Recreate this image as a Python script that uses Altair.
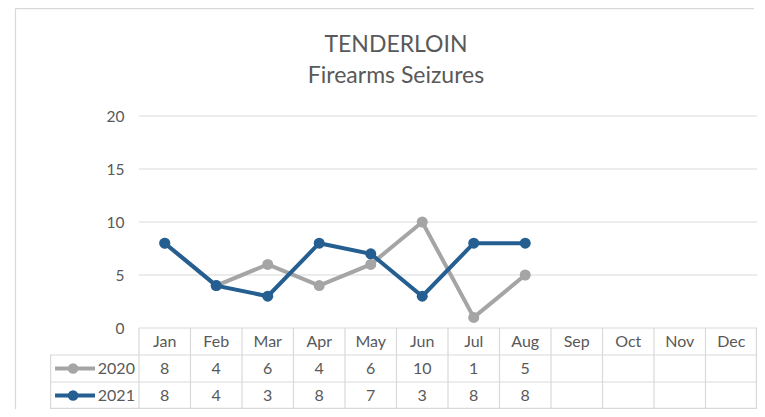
import altair as alt
import pandas as pd

# ---- data ----
months = ["Jan", "Feb", "Mar", "Apr", "May", "Jun", "Jul", "Aug", "Sep", "Oct", "Nov", "Dec"]
series_names = ["2020", "2021"]
values_2020 = [8, 4, 6, 4, 6, 10, 1, 5]
values_2021 = [8, 4, 3, 8, 7, 3, 8, 8]
y_ticks = [0, 5, 10, 15, 20]
grid_values = [5, 10, 15, 20]
title_lines = ["TENDERLOIN", "Firearms Seizures"]

# ---- style / layout constants ----
COLORS = ["#A5A5A5", "#255E91"]
TEXT = "#595959"
LINE = "#D9D9D9"
FONT = "Lato"
PLOT_H = 293
LEG = -1.728                    # left edge of legend column (in month-column units)
BOTTOM = -(PLOT_H - 212) / 10.6 # bottom of table (in value units)
ROW = -BOTTOM / 3               # table row height (in value units)
N = len(months)

# ---- frames ----
pts = []
for s, vals in zip(series_names, [values_2020, values_2021]):
    for i, v in enumerate(vals):
        pts.append({"series": s, "xc": i + 0.5, "value": v, "month": months[i]})
pts = pd.DataFrame(pts)

cells = []
for i, m in enumerate(months):
    cells.append({"xc": i + 0.5, "yc": -ROW * 0.5, "label": m})
for r, (s, vals) in enumerate(zip(series_names, [values_2020, values_2021])):
    for i, v in enumerate(vals):
        cells.append({"xc": i + 0.5, "yc": -ROW * (1.5 + r), "label": str(v)})
cells = pd.DataFrame(cells)

rules = []
for g in grid_values:
    rules.append({"x": 0, "x2": N, "y": g, "y2": g})
rules.append({"x": 0, "x2": N, "y": 0, "y2": 0})
for k in (1, 2):
    rules.append({"x": LEG, "x2": N, "y": -ROW * k, "y2": -ROW * k})
rules.append({"x": LEG, "x2": N, "y": -ROW * 3 + 0.06, "y2": -ROW * 3 + 0.06})
for i in range(N):
    rules.append({"x": i, "x2": i, "y": 0, "y2": -ROW * 3})
rules.append({"x": N - 0.012, "x2": N - 0.012, "y": 0, "y2": -ROW * 3})
rules.append({"x": LEG + 0.012, "x2": LEG + 0.012, "y": -ROW, "y2": -ROW * 3})
rules = pd.DataFrame(rules)

leg = pd.DataFrame({
    "series": series_names,
    "yc": [-ROW * 1.5, -ROW * 2.5],
    "xa": [-1.63, -1.63],
    "xb": [-0.854, -0.854],
    "xd": [-1.28, -1.28],
    "xt": [-0.80, -0.80],
})

xs = alt.Scale(domain=[LEG, N], nice=False, zero=False)
ys = alt.Scale(domain=[BOTTOM, 20], nice=False, zero=False)
cs = alt.Scale(domain=series_names, range=COLORS)

one = alt.Data(values=[{}])
border_top = alt.Chart(one).mark_rule(color=LINE, strokeWidth=1.2).encode(
    x=alt.value(-34.5), x2=alt.value(704), y=alt.value(-107.4), y2=alt.value(-107.4))
border_left = alt.Chart(one).mark_rule(color=LINE, strokeWidth=1.2).encode(
    x=alt.value(-34.5), x2=alt.value(-34.5), y=alt.value(-107.4), y2=alt.value(PLOT_H))

title = alt.Chart(one).mark_text(
    text=title_lines, font=FONT, fontSize=23, color=TEXT, align="center",
    baseline="alphabetic", lineHeight=31
).encode(x=alt.value(346), y=alt.value(-64))

grid = alt.Chart(rules).mark_rule(color=LINE, strokeWidth=1.2).encode(
    x=alt.X("x:Q", scale=xs, axis=None),
    x2="x2:Q",
    y=alt.Y("y:Q", scale=ys, axis=alt.Axis(
        values=y_ticks, domain=False, ticks=False, grid=False, title=None,
        offset=-89, labelPadding=15, labelFont=FONT, labelFontSize=15.5,
        labelColor=TEXT)),
    y2="y2:Q",
)

table_text = alt.Chart(cells).mark_text(
    font=FONT, fontSize=16, color=TEXT, align="center", baseline="middle"
).encode(x=alt.X("xc:Q", scale=xs), y=alt.Y("yc:Q", scale=ys), text="label:N")

leg_line = alt.Chart(leg).mark_rule(strokeWidth=4).encode(
    x=alt.X("xa:Q", scale=xs), x2="xb:Q", y=alt.Y("yc:Q", scale=ys),
    color=alt.Color("series:N", scale=cs, legend=None))
leg_dot = alt.Chart(leg).mark_point(filled=True, size=110, opacity=1, shape="circle").encode(
    x=alt.X("xd:Q", scale=xs), y=alt.Y("yc:Q", scale=ys),
    color=alt.Color("series:N", scale=cs, legend=None))
leg_text = alt.Chart(leg).mark_text(
    font=FONT, fontSize=16, color=TEXT, align="left", baseline="middle"
).encode(x=alt.X("xt:Q", scale=xs), y=alt.Y("yc:Q", scale=ys), text="series:N")

layers = [border_top, border_left, title, grid, table_text, leg_line, leg_dot, leg_text]
for s in series_names:
    base = alt.Chart(pts).transform_filter(alt.datum.series == s)
    layers.append(base.mark_line(strokeWidth=4).encode(
        x=alt.X("xc:Q", scale=xs), y=alt.Y("value:Q", scale=ys),
        color=alt.Color("series:N", scale=cs, legend=None)))
    layers.append(base.mark_point(filled=True, size=121, opacity=1, shape="circle").encode(
        x=alt.X("xc:Q", scale=xs), y=alt.Y("value:Q", scale=ys),
        color=alt.Color("series:N", scale=cs, legend=None),
        tooltip=["series:N", "month:N", "value:Q"]))

chart = alt.layer(*layers).properties(
    width=707, height=PLOT_H,
    autosize=alt.AutoSizeParams(type="none"),
    padding={"left": 42, "top": 108, "right": 0, "bottom": 0},
).configure_view(stroke=None)

chart.save("out.html", embed_options={"renderer": "svg", "actions": False})
